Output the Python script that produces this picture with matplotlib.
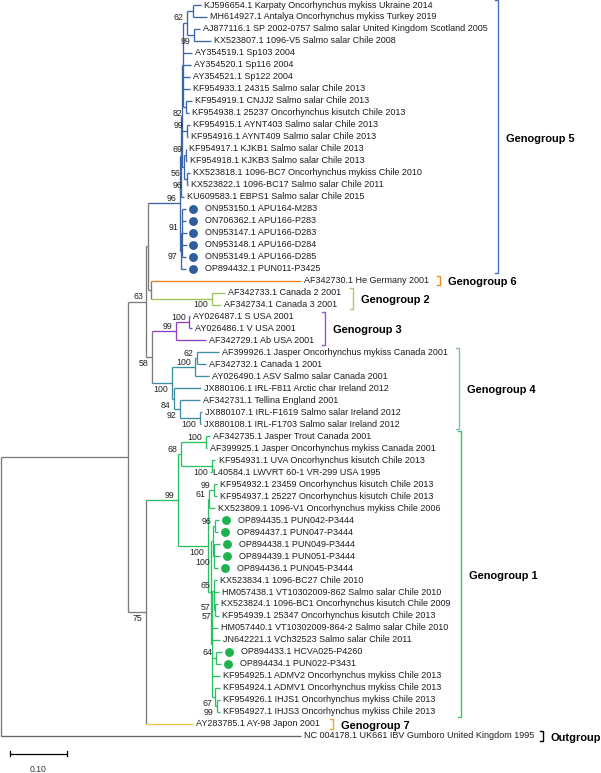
import matplotlib
matplotlib.use("Agg")
import matplotlib.pyplot as plt

# leaf labels, top to bottom
names = [
    "KJ596654.1 Karpaty Oncorhynchus mykiss Ukraine 2014",
    "MH614927.1 Antalya Oncorhynchus mykiss Turkey 2019",
    "AJ877116.1 SP 2002-0757 Salmo salar United Kingdom Scotland 2005",
    "KX523807.1 1096-V5 Salmo salar Chile 2008",
    "AY354519.1 Sp103 2004",
    "AY354520.1 Sp116 2004",
    "AY354521.1 Sp122 2004",
    "KF954933.1 24315 Salmo salar Chile 2013",
    "KF954919.1 CNJJ2 Salmo salar Chile 2013",
    "KF954938.1 25237 Oncorhynchus kisutch Chile 2013",
    "KF954915.1 AYNT403 Salmo salar Chile 2013",
    "KF954916.1 AYNT409 Salmo salar Chile 2013",
    "KF954917.1 KJKB1 Salmo salar Chile 2013",
    "KF954918.1 KJKB3 Salmo salar Chile 2013",
    "KX523818.1 1096-BC7 Oncorhynchus mykiss Chile 2010",
    "KX523822.1 1096-BC17 Salmo salar Chile 2011",
    "KU609583.1 EBPS1 Salmo salar Chile 2015",
    "ON953150.1 APU164-M283",
    "ON706362.1 APU166-P283",
    "ON953147.1 APU166-D283",
    "ON953148.1 APU166-D284",
    "ON953149.1 APU166-D285",
    "OP894432.1 PUN011-P3425",
    "AF342730.1 He Germany 2001",
    "AF342733.1 Canada 2 2001",
    "AF342734.1 Canada 3 2001",
    "AY026487.1 S USA 2001",
    "AY026486.1 V USA 2001",
    "AF342729.1 Ab USA 2001",
    "AF399926.1 Jasper Oncorhynchus mykiss Canada 2001",
    "AF342732.1 Canada 1 2001",
    "AY026490.1 ASV Salmo salar Canada 2001",
    "JX880106.1 IRL-F811 Arctic char Ireland 2012",
    "AF342731.1 Tellina England 2001",
    "JX880107.1 IRL-F1619 Salmo salar Ireland 2012",
    "JX880108.1 IRL-F1703 Salmo salar Ireland 2012",
    "AF342735.1 Jasper Trout Canada 2001",
    "AF399925.1 Jasper Oncorhynchus mykiss Canada 2001",
    "KF954931.1 UVA Oncorhynchus kisutch Chile 2013",
    "L40584.1 LWVRT 60-1 VR-299 USA 1995",
    "KF954932.1 23459 Oncorhynchus kisutch Chile 2013",
    "KF954937.1 25227 Oncorhynchus kisutch Chile 2013",
    "KX523809.1 1096-V1 Oncorhynchus mykiss Chile 2006",
    "OP894435.1 PUN042-P3444",
    "OP894437.1 PUN047-P3444",
    "OP894438.1 PUN049-P3444",
    "OP894439.1 PUN051-P3444",
    "OP894436.1 PUN045-P3444",
    "KX523834.1 1096-BC27 Chile 2010",
    "HM057438.1 VT10302009-862 Salmo salar Chile 2010",
    "KX523824.1 1096-BC1 Oncorhynchus kisutch Chile 2009",
    "KF954939.1 25347 Oncorhynchus kisutch Chile 2013",
    "HM057440.1 VT10302009-864-2 Salmo salar Chile 2010",
    "JN642221.1 VCh32523 Salmo salar Chile 2011",
    "OP894433.1 HCVA025-P4260",
    "OP894434.1 PUN022-P3431",
    "KF954925.1 ADMV2 Oncorhynchus mykiss Chile 2013",
    "KF954924.1 ADMV1 Oncorhynchus mykiss Chile 2013",
    "KF954926.1 IHJS1 Oncorhynchus mykiss Chile 2013",
    "KF954927.1 IHJS3 Oncorhynchus mykiss Chile 2013",
    "AY283785.1 AY-98 Japon 2001",
    "NC 004178.1 UK661 IBV Gumboro United Kingdom 1995",
]

# distance of each tip from the root (substitutions/site)
tips = [
    0.3527, 0.3633, 0.3510, 0.3704, 0.3369, 0.3351, 0.3333, 0.3325, 0.3369, 0.3310,
    0.3325, 0.3298, 0.3268, 0.3280, 0.3328, 0.3293, 0.3233, 0.3263, 0.3263, 0.3272,
    0.3272, 0.3263, 0.3263, 0.5291, 0.3951, 0.3880, 0.3333, 0.3360, 0.3607, 0.3845,
    0.3607, 0.3668, 0.3527, 0.3510, 0.3545, 0.3527, 0.3686, 0.3633, 0.3783, 0.3686,
    0.3801, 0.3801, 0.3774, 0.3845, 0.3827, 0.3863, 0.3863, 0.3827, 0.3801, 0.3845,
    0.3827, 0.3845, 0.3827, 0.3854, 0.3898, 0.3880, 0.3854, 0.3854, 0.3863, 0.3863,
    0.3386, 0.5291,
]

# sequences from this study (marked with dots)
study_blue = [17, 18, 19, 20, 21, 22]
study_green = [43, 44, 45, 46, 47, 54, 55]

# internal nodes: name -> (depth, bootstrap, children)
nodes = {
    "root": (0.0000, None, ["A", 61]),
    "A": (0.2240, None, ["B1", "B2"]),
    "B1": (0.2566, 63, ["C1", "N58"]),
    "C1": (0.2593, None, ["G5", "D"]),
    "G5": (0.3157, 96, ["Q", "L"]),
    "Q": (0.3175, None, ["Qb", 16]),
    "Qb": (0.3192, None, ["Qc", "N99g", "N56"]),
    "Qc": (0.3210, None, ["N1_4", 4, 5, 6, 7, "N82"]),
    "N1_4": (0.3280, 62, ["N1_2", "N3_4"]),
    "N1_2": (0.3386, None, [0, 1]),
    "N3_4": (0.3404, 99, [2, 3]),
    "N82": (0.3263, 82, [8, 9]),
    "N99g": (0.3272, 99, [10, 11]),
    "N56": (0.3236, 56, ["N69", "N15_16"]),
    "N69": (0.3254, 69, [12, 13]),
    "N15_16": (0.3272, 96, [14, 15]),
    "L": (0.3175, 97, ["M", 22]),
    "M": (0.3192, 91, [17, 18, 19, 20, 21]),
    "D": (0.2640, None, [23, "G2"]),
    "G2": (0.3716, 100, [24, 25]),
    "N58": (0.2663, 58, ["G3", "G4"]),
    "G3": (0.3086, 99, ["N27_28", 28]),
    "N27_28": (0.3321, 100, [26, 27]),
    "G4": (0.3011, 100, ["Nup", "N84"]),
    "Nup": (0.3413, 100, ["N62", 31]),
    "N62": (0.3457, 62, [29, 30]),
    "N84": (0.3051, 84, [32, "N92"]),
    "N92": (0.3157, 92, [33, "N35_36"]),
    "N35_36": (0.3501, 100, [34, 35]),
    "B2": (0.2557, 75, ["G1", 60]),
    "G1": (0.3122, 99, ["N68", "N100b"]),
    "N68": (0.3169, 68, ["N37_38", "N39_40"]),
    "N37_38": (0.3616, 100, [36, 37]),
    "N39_40": (0.3721, 100, [38, 39]),
    "N100b": (0.3651, 100, ["N61", "Ncomb"]),
    "N61": (0.3677, 61, ["N41_42", 42]),
    "N41_42": (0.3748, 99, [40, 41]),
    "Ncomb": (0.3704, None, ["N44_48", "Nrest"]),
    "N44_48": (0.3739, None, ["N44_45", "N46_48"]),
    "N44_45": (0.3774, 96, [43, 44]),
    "N46_48": (0.3757, 100, [45, 46, 47]),
    "Nrest": (0.3730, None, ["N65", 52, 53, "N64", 56, "N67"]),
    "N65": (0.3748, 65, [48, "N57a"]),
    "N57a": (0.3765, 57, [49, "N57b"]),
    "N57b": (0.3783, 57, [50, 51]),
    "N64": (0.3792, 64, [54, 55]),
    "N67": (0.3783, 67, [57, "N99"]),
    "N99": (0.3810, 99, [58, 59]),
}

# clade label, first leaf, last leaf
clades = [
    ("Genogroup 5", 0, 22),
    ("Genogroup 6", 23, 23),
    ("Genogroup 2", 24, 25),
    ("Genogroup 3", 26, 28),
    ("Genogroup 4", 29, 35),
    ("Genogroup 1", 36, 59),
    ("Genogroup 7", 60, 60),
    ("Outgroup", 61, 61),
]

# ---- styling / layout ----
GRAY = "#7b7b7b"
branch_colors = {"G5": "#3c64a8", 23: "#f07d1c", "G2": "#9bc459", "G3": "#8a40c2",
                 "G4": "#3a8fa3", "G1": "#27c163", 60: "#f6c445", 61: "#666666"}
bracket_colors = ["#4a74bd", "#f5891f", "#a6cd67", "#9553cc", "#86b8c4", "#3cc46a",
                  "#f0a830", "#000000"]
bracket_x = [0.8765, 0.7743, 0.6208, 0.5714, 0.8078, 0.8113, 0.5855, 0.9559]

plt.rcParams["font.family"] = ["Liberation Sans", "DejaVu Sans"]

fig = plt.figure(figsize=(6.01, 7.73), dpi=100)
ax = fig.add_axes([0, 0, 1, 1])
ax.set_xlim(-1 / 567, 600 / 567)
ax.set_ylim((773 - 5) / 11.98, -5 / 11.98)
ax.axis("off")

ypos = {}
parent = {}


def place(key):
    if isinstance(key, int):
        ypos[key] = key
        return key
    kids = nodes[key][2]
    for k in kids:
        parent[k] = key
        place(k)
    ypos[key] = (ypos[kids[0]] + ypos[kids[-1]]) / 2
    return ypos[key]


place("root")

colors = {}


def paint(key, col):
    col = branch_colors.get(key, col)
    colors[key] = col
    if not isinstance(key, int):
        for k in nodes[key][2]:
            paint(k, col)


paint("root", GRAY)

LW = 0.95
for key, (depth, bs, kids) in nodes.items():
    ax.plot([depth, depth], [ypos[kids[0]], ypos[kids[-1]]], color=colors[key],
            lw=LW, solid_capstyle="butt")
    for k in kids:
        end = tips[k] if isinstance(k, int) else nodes[k][0]
        ax.plot([depth, end], [ypos[k], ypos[k]], color=colors[k], lw=LW,
                solid_capstyle="butt")
    if bs is not None:
        sib = nodes[parent[key]][2]
        dy = -4.6 if sib[-1] == key else 3.6
        ax.annotate(str(bs), (depth, ypos[key]), xytext=(-2.6, dy),
                    textcoords="offset points", ha="right", va="center",
                    fontsize=6.3, color="#222222")

for i, name in enumerate(names):
    off = 2.2
    if i in study_blue or i in study_green:
        dc = "#2f5e9e" if i in study_blue else "#1fb24e"
        ax.plot(tips[i] + 0.0123, i, "o", ms=6.4, color=dc, mec="none")
        off = 13.4
    ax.annotate(name, (tips[i], i), xytext=(off, 0), textcoords="offset points",
                ha="left", va="center", fontsize=6.45, color="#1e1e1e")

tick = 0.0053
for (label, a, b), bx, col in zip(clades, bracket_x, bracket_colors):
    y0, y1 = a - 0.4, b + 0.4
    ax.plot([bx - tick, bx, bx, bx - tick], [y0, y0, y1, y1], color=col, lw=1.0)
    ax.text(bx + 0.0141, (y0 + y1) / 2 + 0.15, label, ha="left", va="center",
            fontsize=7.9, fontweight="bold", color="black")

# scale bar
sb0, sby = 0.0159, 62.5
ax.plot([sb0, sb0 + 0.10], [sby, sby], color="black", lw=0.9)
ax.plot([sb0, sb0], [sby - 0.22, sby + 0.22], color="black", lw=0.9)
ax.plot([sb0 + 0.10, sb0 + 0.10], [sby - 0.22, sby + 0.22], color="black", lw=0.9)
ax.text(sb0 + 0.05, 63.8, "0.10", ha="center", va="center", fontsize=6.2, color="#333333")

plt.savefig("out.png", dpi=100)
